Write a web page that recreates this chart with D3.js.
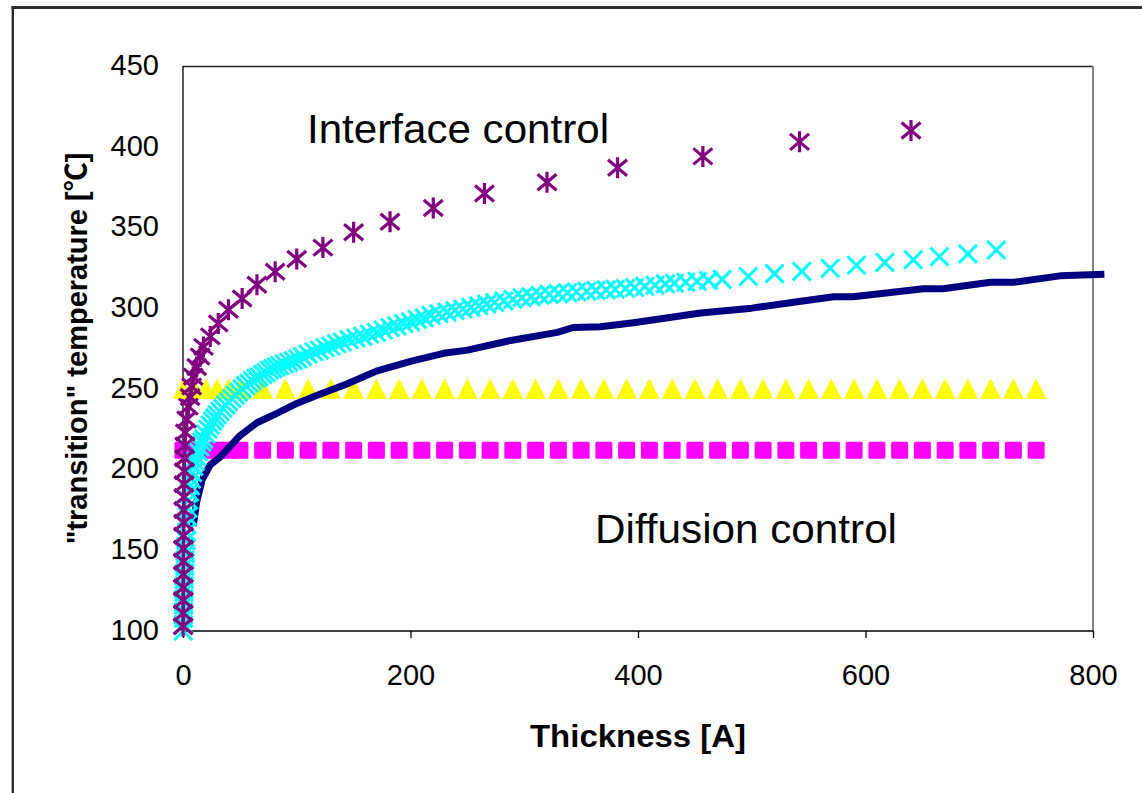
<!DOCTYPE html>
<html>
<head>
<meta charset="utf-8">
<script src="https://cdn.jsdelivr.net/npm/d3@7"></script>
<style>
  html, body { margin: 0; padding: 0; background: #fff; }
  svg { display: block; }
  text { font-family: "Liberation Sans", Arial, "Noto Sans CJK SC", sans-serif; fill: #000; }
</style>
</head>
<body>
<svg id="chart" width="1142" height="793"></svg>
<script>
// ---- data -------------------------------------------------------------
const xTicks = [0, 200, 400, 600, 800];
const yTicks = [100, 150, 200, 250, 300, 350, 400, 450];

// Diffusion model curve (solid navy line): [thickness, temperature]
const diffusionCurve = [
  [9, 165], [12, 180], [17, 194], [24, 203], [33, 208], [50, 221], [65, 229],
  [83, 235], [100, 241], [118, 246], [144, 253], [170, 261], [200, 267],
  [229, 272], [250, 274], [288, 280], [329, 285], [343, 288], [367, 288.5],
  [396, 291], [455, 297], [500, 300], [540, 304], [572, 307], [589, 307],
  [651, 312], [668, 312], [710, 316], [730, 316], [771, 320], [810, 321]
];

// Constant-temperature levels (squares and triangles)
const levelThickness = [0, 10, 20, 30, 40, 50, 70, 90, 110, 130, 150, 170, 190,
  210, 230, 250, 270, 290, 310, 330, 350, 370, 390, 410, 430, 450, 470, 490,
  510, 530, 550, 570, 590, 610, 630, 650, 670, 690, 710, 730, 750];
const squareLevel = 212;
const triangleLevel = 250;

// Crossed series (cyan x markers): [thickness, temperature]
const crossPoints = [
  [0.3, 100], [0.4, 104], [0.5, 108], [0.6, 112], [0.7, 116], [0.8, 120], [0.9, 124],
  [1.0, 128], [1.2, 132], [1.4, 136], [1.6, 140], [1.8, 144], [2.0, 148], [2.3, 152],
  [2.7, 156], [3.1, 161], [3.5, 166], [3.9, 171], [4.4, 176], [5.0, 181], [5.7, 186],
  [6.5, 190], [7.4, 194], [8.4, 198], [9.5, 202], [10.7, 205], [12, 208], [13.4, 211],
  [14.9, 214], [16.5, 217], [18.2, 219], [20, 222], [22, 225], [24, 227.5], [26, 230],
  [28, 232], [30, 234], [32.5, 236], [35, 238], [37.5, 240], [40, 242], [43, 244],
  [46, 246], [49, 248], [52, 250], [55, 252], [58, 253.5], [61, 255], [64, 256.5],
  [67, 257.5], [70, 259], [73, 260], [76, 261.5], [79, 262.5], [82, 263.5], [85, 264.5],
  [89, 265.5], [93, 266.5], [97, 267.5], [101, 268.5], [105, 270], [110, 271.5],
  [115, 273], [120, 274], [125, 275.5], [130, 276.5], [135, 278], [140, 279],
  [146, 280.5], [152, 281.5], [158, 282.5], [164, 284], [170, 285], [176, 286.5],
  [182, 288], [188, 289], [194, 290.5], [200, 291.5], [206, 293], [212, 294],
  [218, 295.5], [225, 296.5], [232, 297.5], [239, 298.5], [246, 299.5], [253, 300.5],
  [260, 301.5], [267, 302.5], [274, 303.5], [282, 304.5], [290, 305.5], [298, 306.5],
  [306, 307], [314, 308], [322, 308.5], [330, 309], [338, 309.5], [346, 310],
  [355, 310.5], [363, 311], [372, 311.3], [380, 311.7], [389, 312.2], [397, 312.8],
  [406, 313.5], [415, 314.2], [424, 315], [432, 315.5], [442, 316], [452, 316.6],
  [462, 317.2], [474, 317.8], [497, 319.6], [520, 321.4], [544, 322.8], [569, 324.7],
  [592, 326.6], [617, 328.3], [642, 330], [665, 331.9], [690, 333.6], [715, 336]
];

// Interface-controlled series (purple asterisks): [thickness, temperature]
const starPoints = [
  [0.1, 103], [0.15, 111], [0.2, 119], [0.25, 127], [0.3, 135], [0.35, 143],
  [0.4, 151], [0.5, 159], [0.6, 167], [0.7, 175], [0.8, 183], [0.9, 191],
  [1.1, 199], [1.3, 207], [1.6, 215], [2, 223], [3.3, 231], [4.7, 239],
  [6.2, 245], [7.6, 251.5], [9, 257.5], [12, 263.5], [15, 270], [18, 276],
  [24, 282.5], [31, 290.5], [40, 299], [52, 306], [65, 314.5], [81, 322.5],
  [100, 330.5], [123, 337.5], [150, 347], [182, 353.5], [220, 362], [265, 371],
  [320, 378], [382, 387], [457, 394], [542, 403], [640, 410]
];

const xTitle = "Thickness [A]";
const yTitle = "\"transition\" temperature [\u2103]";
const notes = [
  { text: "Interface control", x: 307, y: 143 },
  { text: "Diffusion control", x: 595, y: 543 }
];

// ---- layout -----------------------------------------------------------
const plot = { left: 183, right: 1093, top: 66, bottom: 631 };
const svg = d3.select("#chart");

svg.append("rect").attr("width", 1142).attr("height", 793).attr("fill", "#fff");

// outer chart frame (runs past the right and bottom edges)
svg.append("line").attr("x1", 11.5).attr("x2", 1142).attr("y1", 7.5).attr("y2", 7.5)
  .attr("stroke", "#2b2b2b").attr("stroke-width", 3);
svg.append("line").attr("x1", 12.8).attr("x2", 12.8).attr("y1", 6).attr("y2", 793)
  .attr("stroke", "#2b2b2b").attr("stroke-width", 2.4);

const x = d3.scaleLinear().domain([0, 800]).range([plot.left, plot.right]);
const y = d3.scaleLinear().domain([100, 450]).range([plot.bottom, plot.top]);

// plot-area border
svg.append("line").attr("x1", plot.left).attr("x2", plot.right)
  .attr("y1", plot.top + 0.5).attr("y2", plot.top + 0.5)
  .attr("stroke", "#222").attr("stroke-width", 1.3);
svg.append("line").attr("x1", plot.right).attr("x2", plot.right)
  .attr("y1", plot.top).attr("y2", plot.bottom)
  .attr("stroke", "#808080").attr("stroke-width", 2);

// axes
const xAxis = d3.axisBottom(x).tickValues(xTicks).tickSize(7).tickSizeOuter(0)
  .tickPadding(26.4).tickFormat(d3.format("d"));
const gx = svg.append("g").attr("transform", `translate(0,${plot.bottom})`).call(xAxis);
gx.select(".domain").remove();
gx.selectAll(".tick line").attr("stroke", "#000").attr("stroke-width", 1.3);
gx.selectAll(".tick text").attr("font-size", 29).attr("fill", "#000");

const yAxis = d3.axisLeft(y).tickValues(yTicks).tickSize(0).tickPadding(24)
  .tickFormat(d3.format("d"));
const gy = svg.append("g").attr("transform", `translate(${plot.left},0)`).call(yAxis);
gy.select(".domain").remove();
gy.selectAll(".tick text").attr("font-size", 29).attr("dy", "0.29em").attr("fill", "#000");

svg.append("line").attr("x1", plot.left).attr("x2", plot.right)
  .attr("y1", plot.bottom).attr("y2", plot.bottom)
  .attr("stroke", "#000").attr("stroke-width", 1.5);
svg.append("line").attr("x1", plot.left).attr("x2", plot.left)
  .attr("y1", plot.top).attr("y2", plot.bottom)
  .attr("stroke", "#000").attr("stroke-width", 1.3);

// axis titles
svg.append("text").attr("x", (plot.left + plot.right) / 2).attr("y", 747)
  .attr("text-anchor", "middle").attr("font-size", 31).attr("font-weight", "bold")
  .attr("textLength", 216).attr("lengthAdjust", "spacingAndGlyphs")
  .text(xTitle);
svg.append("text")
  .attr("transform", `translate(87,${(plot.top + plot.bottom) / 2}) rotate(-90)`)
  .attr("text-anchor", "middle").attr("font-size", 29).attr("font-weight", "bold")
  .text(yTitle);

// ---- marks ------------------------------------------------------------
const sq = 17;
svg.append("g").selectAll("rect").data(levelThickness).join("rect")
  .attr("x", d => x(d) - sq / 2).attr("y", y(squareLevel) - sq / 2)
  .attr("width", sq).attr("height", sq).attr("rx", 1.5)
  .attr("fill", "#ff00ff");

const triPath = "M0,-9.5L9.5,9.5L-9.5,9.5Z";
svg.append("g").selectAll("path").data(levelThickness).join("path")
  .attr("transform", d => `translate(${x(d)},${y(triangleLevel)})`)
  .attr("d", triPath).attr("fill", "#ffff00")
  .attr("stroke", "#ffff00").attr("stroke-width", 1).attr("stroke-linejoin", "round");

svg.append("path").datum(diffusionCurve)
  .attr("d", d3.line().x(d => x(d[0])).y(d => y(d[1])))
  .attr("fill", "none").attr("stroke", "#000080").attr("stroke-width", 7)
  .attr("stroke-linejoin", "round");

const crossPath = "M-9,-9L9,9M-9,9L9,-9";
svg.append("g").selectAll("path").data(crossPoints).join("path")
  .attr("transform", d => `translate(${x(d[0])},${y(d[1])})`)
  .attr("d", crossPath).attr("fill", "none")
  .attr("stroke", "#00ffff").attr("stroke-width", 3);

const starPath = "M0,-10.5L0,10.5M-9.5,-8L9.5,8M-9.5,8L9.5,-8";
svg.append("g").selectAll("path").data(starPoints).join("path")
  .attr("transform", d => `translate(${x(d[0])},${y(d[1])})`)
  .attr("d", starPath).attr("fill", "none")
  .attr("stroke", "#800080").attr("stroke-width", 3.2);

// region annotations
svg.append("g").selectAll("text").data(notes).join("text")
  .attr("x", d => d.x).attr("y", d => d.y)
  .attr("font-size", 41).attr("textLength", 302).attr("lengthAdjust", "spacingAndGlyphs")
  .text(d => d.text);
</script>
</body>
</html>
